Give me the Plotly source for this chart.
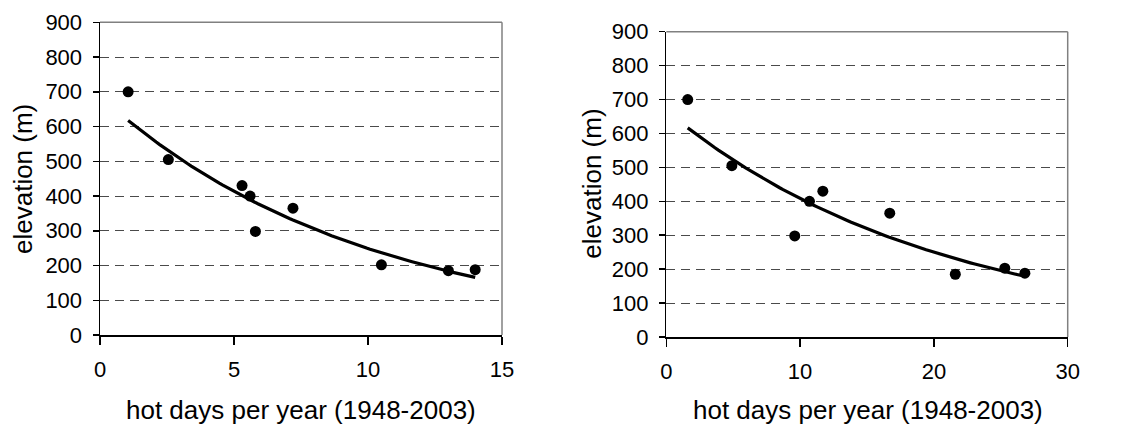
import numpy as np
import plotly.graph_objects as go

# Left panel data
left_x = [1.05, 2.55, 5.3, 5.6, 5.8, 7.2, 10.5, 13.0, 14.0]
left_y = [700, 505, 430, 400, 298, 365, 202, 185, 188]
# Right panel data
right_x = [1.6, 4.9, 9.6, 10.7, 11.7, 16.7, 21.6, 25.3, 26.8]
right_y = [700, 505, 298, 400, 430, 365, 185, 203, 188]

x_title = "hot days per year (1948-2003)"
y_title = "elevation (m)"


def exp_fit(xs, ys):
    xs = np.asarray(xs, float)
    ys = np.asarray(ys, float)
    b, lna = np.polyfit(xs, np.log(ys), 1)
    xf = np.linspace(xs.min(), xs.max(), 100)
    return xf, np.exp(lna) * np.exp(b * xf)


fig = go.Figure()

for i, (xs, ys) in enumerate([(left_x, left_y), (right_x, right_y)]):
    xa = "x" if i == 0 else "x2"
    ya = "y" if i == 0 else "y2"
    xf, yf = exp_fit(xs, ys)
    fig.add_trace(go.Scatter(x=xf, y=yf, mode="lines", xaxis=xa, yaxis=ya,
                             line=dict(color="black", width=3.2), showlegend=False,
                             hoverinfo="skip"))
    fig.add_trace(go.Scatter(x=xs, y=ys, mode="markers", xaxis=xa, yaxis=ya,
                             marker=dict(color="black", size=11), showlegend=False))

W, H = 1123, 426
font = "Liberation Sans, Arial, sans-serif"

axis_common = dict(
    showline=True, linecolor="black", linewidth=1.5,
    ticks="outside", tickcolor="black", tickwidth=1.5,
    tickfont=dict(family=font, size=22, color="black"),
    zeroline=False, fixedrange=True, automargin=False,
)

xcommon = dict(axis_common, ticklen=8, showgrid=False, ticklabelstandoff=6)
ycommon = dict(axis_common, ticklen=6, showgrid=True, gridcolor="#4a4a4a",
               gridwidth=1, griddash="9px,6px", range=[0, 900], dtick=100,
               ticklabelstandoff=6)

fig.update_layout(
    template="none",
    width=W, height=H,
    margin=dict(l=0, r=0, t=0, b=0, autoexpand=False),
    paper_bgcolor="white", plot_bgcolor="white",
    font=dict(family=font, color="black"),
    xaxis=dict(xcommon, domain=[100 / W, 502 / W], range=[0, 15], dtick=5, anchor="y"),
    yaxis=dict(ycommon, domain=[(H - 335) / H, (H - 22.3) / H], anchor="x"),
    xaxis2=dict(xcommon, domain=[666.3 / W, 1067.7 / W], range=[0, 30], dtick=10, anchor="y2"),
    yaxis2=dict(ycommon, domain=[(H - 337) / H, (H - 31.7) / H], anchor="x2"),
)

# gray frame on top and right of each panel
for xr, yr in [("x domain", "y domain"), ("x2 domain", "y2 domain")]:
    fig.add_shape(type="line", xref=xr, yref=yr, x0=0, x1=1, y0=1, y1=1,
                  line=dict(color="#808080", width=1.5))
    fig.add_shape(type="line", xref=xr, yref=yr, x0=1, x1=1, y0=0, y1=1,
                  line=dict(color="#808080", width=1.5))

title_font = dict(family=font, size=26, color="black")
annots = [
    dict(text=x_title, x=301 / W, y=(H - 410) / H, textangle=0),
    dict(text=x_title, x=867.5 / W, y=(H - 410) / H, textangle=0),
    dict(text=y_title, x=23 / W, y=(H - 179) / H, textangle=-90),
    dict(text=y_title, x=591.7 / W, y=(H - 184) / H, textangle=-90),
]
for a in annots:
    fig.add_annotation(xref="paper", yref="paper", showarrow=False,
                       xanchor="center", yanchor="middle", font=title_font, **a)

fig.write_html(
    "out.html",
    config={"displayModeBar": False, "staticPlot": True},
    post_script="document.body.style.margin='0';document.body.style.overflow='hidden';",
)
